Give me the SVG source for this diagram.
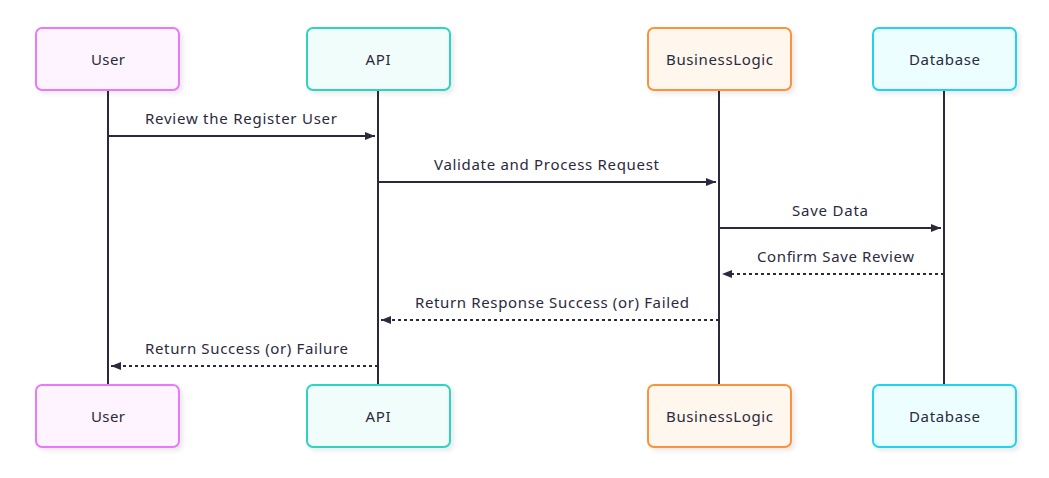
<svg xmlns="http://www.w3.org/2000/svg" width="1049" height="478" viewBox="0 0 1049 478">
<style>
text{font-family:"Noto Sans","DejaVu Sans",sans-serif;font-size:15px;fill:#2b2a3d;text-anchor:middle;lengthAdjust:spacing}
.actor text{dominant-baseline:central}
.box{stroke-width:2}
.life{stroke:#2b2a3d;stroke-width:2}
.msg{stroke:#2b2a3d;stroke-width:2;fill:none}
.dash{stroke-dasharray:3 3}
.user{fill:#fdf4ff;stroke:#e879f9}
.api{fill:#f0fdfa;stroke:#2dd4bf}
.bl{fill:#fff7ed;stroke:#fb923c}
.db{fill:#ecfeff;stroke:#22d3ee}
</style>
<defs>
<marker id="ah" markerWidth="10" markerHeight="8" refX="10" refY="4" orient="auto" markerUnits="userSpaceOnUse">
<path d="M0,0 L10,4 L0,8 Z" fill="#2b2a3d"/>
</marker>
<filter id="sh" x="-10%" y="-10%" width="130%" height="140%">
<feDropShadow dx="3" dy="3" stdDeviation="2" flood-color="#000" flood-opacity="0.08"/>
</filter>
</defs>
<rect width="1049" height="478" fill="#fff"/>
<g id="lifelines">
<line class="life" x1="108" y1="90" x2="108" y2="385"/>
<line class="life" x1="378" y1="90" x2="378" y2="385"/>
<line class="life" x1="719" y1="90" x2="719" y2="385"/>
<line class="life" x1="944" y1="90" x2="944" y2="385"/>
</g>
<g id="actor-user" class="actor">
<rect class="box user" x="36" y="28" width="143" height="62" rx="6" filter="url(#sh)"/>
<text x="108" y="59" textLength="34" lengthAdjust="spacing">User</text>
<rect class="box user" x="36" y="385" width="143" height="62" rx="6" filter="url(#sh)"/>
<text x="108" y="416" textLength="34" lengthAdjust="spacing">User</text>
</g>
<g id="actor-api" class="actor">
<rect class="box api" x="307" y="28" width="143" height="62" rx="6" filter="url(#sh)"/>
<text x="378" y="59" textLength="25" lengthAdjust="spacing">API</text>
<rect class="box api" x="307" y="385" width="143" height="62" rx="6" filter="url(#sh)"/>
<text x="378" y="416" textLength="25" lengthAdjust="spacing">API</text>
</g>
<g id="actor-businesslogic" class="actor">
<rect class="box bl" x="648" y="28" width="143" height="62" rx="6" filter="url(#sh)"/>
<text x="719.5" y="59" textLength="107" lengthAdjust="spacing">BusinessLogic</text>
<rect class="box bl" x="648" y="385" width="143" height="62" rx="6" filter="url(#sh)"/>
<text x="719.5" y="416" textLength="107" lengthAdjust="spacing">BusinessLogic</text>
</g>
<g id="actor-database" class="actor">
<rect class="box db" x="873" y="28" width="143" height="62" rx="6" filter="url(#sh)"/>
<text x="944.5" y="59" textLength="71" lengthAdjust="spacing">Database</text>
<rect class="box db" x="873" y="385" width="143" height="62" rx="6" filter="url(#sh)"/>
<text x="944.5" y="416" textLength="71" lengthAdjust="spacing">Database</text>
</g>
<g id="connectors">
<line class="msg" x1="108" y1="136" x2="375" y2="136" marker-end="url(#ah)"/>
<text x="241" y="124" textLength="192" lengthAdjust="spacing">Review the Register User</text>
<line class="msg" x1="378" y1="182" x2="716" y2="182" marker-end="url(#ah)"/>
<text x="546.5" y="170" textLength="225" lengthAdjust="spacing">Validate and Process Request</text>
<line class="msg" x1="719" y1="228" x2="941" y2="228" marker-end="url(#ah)"/>
<text x="830" y="216" textLength="76" lengthAdjust="spacing">Save Data</text>
<line class="msg dash" x1="944" y1="274" x2="722" y2="274" marker-end="url(#ah)"/>
<text x="835.5" y="262" textLength="157" lengthAdjust="spacing">Confirm Save Review</text>
<line class="msg dash" x1="719" y1="320" x2="381" y2="320" marker-end="url(#ah)"/>
<text x="552" y="308" textLength="274" lengthAdjust="spacing">Return Response Success (or) Failed</text>
<line class="msg dash" x1="378" y1="366" x2="111" y2="366" marker-end="url(#ah)"/>
<text x="246.5" y="354" textLength="203" lengthAdjust="spacing">Return Success (or) Failure</text>
</g>
</svg>
